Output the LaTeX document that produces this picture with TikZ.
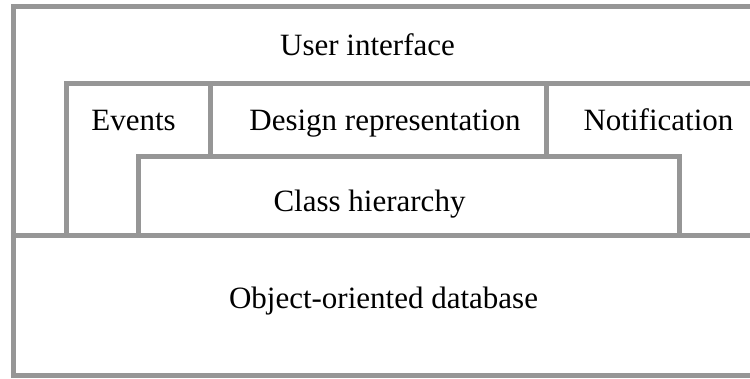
\documentclass[tikz,border=0pt]{standalone}
\usepackage{fontspec}
\setmainfont{Liberation Serif}
\definecolor{linegray}{RGB}{150,150,150}
\tikzset{
  layer/.style={draw=linegray, line width=5pt, line join=miter},
  lbl/.style={anchor=base, inner sep=0pt, font=\fontsize{31}{36}\selectfont, text=black}
}
\begin{document}
\begin{tikzpicture}[x=1pt,y=-1pt]
\useasboundingbox (0,0) rectangle (750,378);
% outer frame (open on the right)
\draw[layer] (753,6.5) -- (13.5,6.5) -- (13.5,375.5) -- (753,375.5);
% user interface / database divider
\draw[layer] (13.5,235.5) -- (753,235.5);
% middle layer
\draw[layer] (753,83.5) -- (66.5,83.5) -- (66.5,235.5);
\draw[layer] (210.5,83.5) -- (210.5,156.5);
\draw[layer] (546.5,83.5) -- (546.5,156.5);
% class hierarchy
\draw[layer] (138.5,235.5) -- (138.5,156.5) -- (679.5,156.5) -- (679.5,235.5);
% labels
\node[lbl] (ui) at (367.5,55) {User interface};
\node[lbl] (ev) at (133.5,130) {Events};
\node[lbl] (dr) at (385,130) {Design representation};
\node[lbl] (nt) at (658.5,130) {Notification};
\node[lbl] (ch) at (369.5,211) {Class hierarchy};
\node[lbl] (db) at (383.5,308) {Object-oriented database};
\end{tikzpicture}
\end{document}
